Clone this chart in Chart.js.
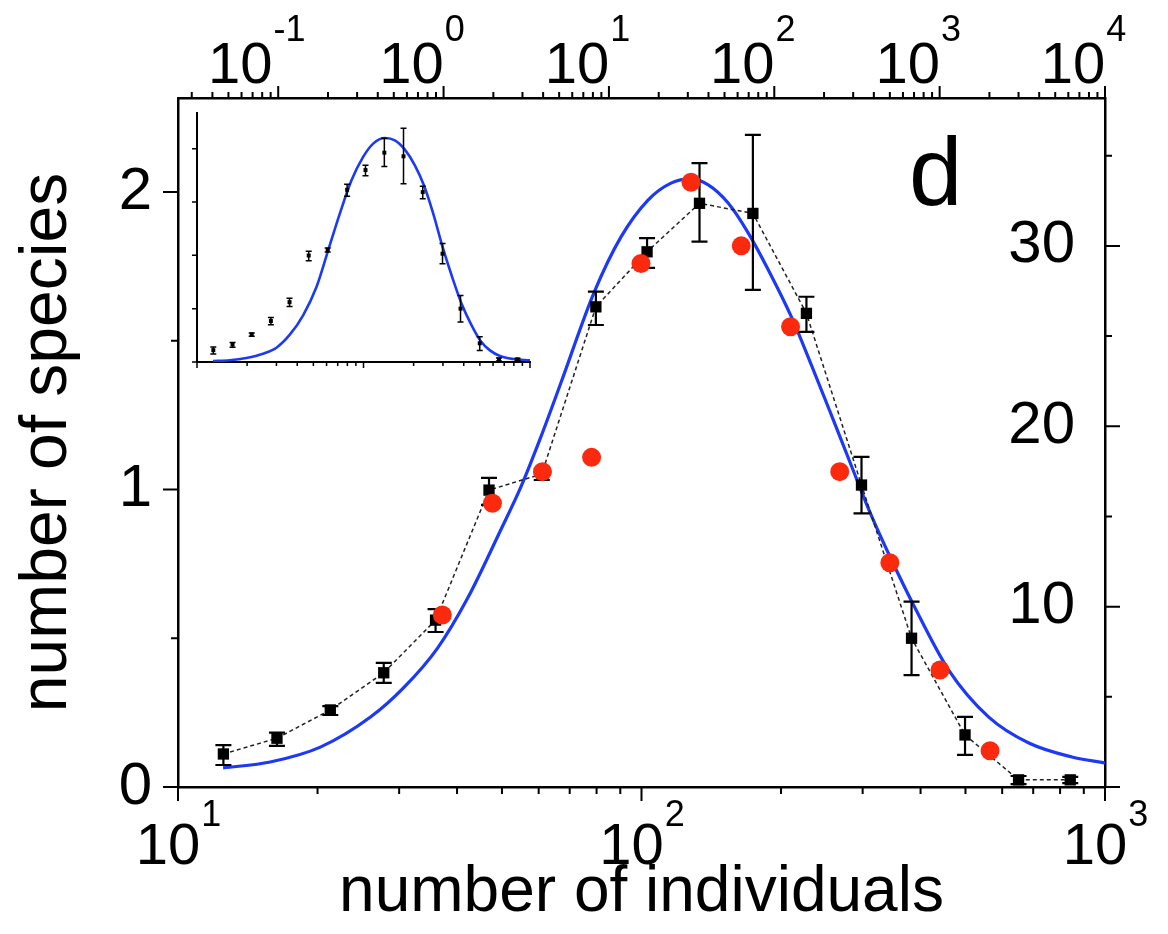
<!DOCTYPE html>
<html>
<head>
<meta charset="utf-8">
<script src="https://cdn.jsdelivr.net/npm/chart.js@4.4.1/dist/chart.umd.min.js"></script>
<style>
  body { margin: 0; background: #fff; }
  #wrap { position: relative; width: 1168px; height: 934px; }
  #inset { position: absolute; left: 150px; top: 100px; }
</style>
</head>
<body>
<div id="wrap">
  <canvas id="main" width="1168" height="934"></canvas>
  <canvas id="inset" width="400" height="280"></canvas>
</div>
<script>
// black squares with error bars (also shown in the inset)
const blackX = [12.53, 16.35, 21.31, 27.79, 35.95, 46.88, 60.93, 79.72, 102.8, 133.4, 173.9, 226.9, 298.3, 382.5, 498.9, 650.9, 841.4];
const blackY = [0.111, 0.164, 0.259, 0.384, 0.561, 0.998, 1.052, 1.614, 1.799, 1.962, 1.928, 1.592, 1.015, 0.500, 0.175, 0.024, 0.024];
const blackLo = [0.074, 0.138, 0.242, 0.350, 0.521, 0.948, 1.032, 1.553, 1.745, 1.833, 1.671, 1.530, 0.920, 0.376, 0.108, 0.010, 0.013];
const blackHi = [0.141, 0.183, 0.272, 0.417, 0.598, 1.039, 1.069, 1.665, 1.845, 2.097, 2.192, 1.648, 1.110, 0.623, 0.236, 0.037, 0.034];

// red circles
const redX = [37.17, 47.69, 61.14, 78.04, 99.75, 127.9, 164.1, 209.7, 267.7, 343.4, 440.5, 564.9];
const redY = [0.578, 0.954, 1.060, 1.108, 1.760, 2.033, 1.819, 1.547, 1.060, 0.754, 0.393, 0.122];

// blue curve, main panel
const fitX = [12.51, 15.81, 20.28, 26.02, 30.65, 36.31, 42.17, 49.69, 54.90, 60.63, 66.99, 78.95, 90.32, 103.3, 115.8, 127.9, 139.3, 153.8, 170.0, 187.8, 210.6, 232.6, 256.9, 283.8, 313.5, 346.3, 388.3, 460.0, 561.3, 685.0, 848.2, 1000];
const fitY = [0.064, 0.084, 0.134, 0.235, 0.333, 0.467, 0.635, 0.864, 1.008, 1.176, 1.358, 1.661, 1.849, 1.973, 2.030, 2.044, 2.024, 1.963, 1.862, 1.738, 1.580, 1.418, 1.250, 1.079, 0.911, 0.763, 0.605, 0.393, 0.235, 0.148, 0.101, 0.081];

// blue curve, inset
const insetFitX = [12.48, 15.72, 19.80, 24.93, 29.99, 36.07, 43.38, 52.17, 61.34, 72.07, 84.73, 99.5, 114.3, 134.4, 154.3, 177.2, 203.5, 230.5, 262.3, 298.5, 338.1, 388.3, 446.0, 505.1, 574.8, 660.2, 794.0, 1000];
const insetFitY = [0.009, 0.016, 0.038, 0.078, 0.134, 0.256, 0.438, 0.703, 1.047, 1.391, 1.703, 1.922, 2.047, 2.100, 2.078, 1.991, 1.844, 1.656, 1.391, 1.078, 0.813, 0.547, 0.344, 0.197, 0.109, 0.056, 0.028, 0.016];

// axes
const bottomLabels = [10, 100, 1000];
const topLabels = [0.1, 1, 10, 100, 1000, 10000];
const leftTicks = [0, 0.5, 1, 1.5, 2];
const leftLabels = [0, 1, 2];
const rightTicks = [0, 5, 10, 15, 20, 25, 30, 35];
const rightLabels = [10, 20, 30];
const insetYTicks = [0, 0.5, 1, 1.5, 2];

const FONT = "'Liberation Sans', Arial, sans-serif";
const BLUE = '#1c3af5';
const RED = '#fb2a0e';

function pts(xs, ys) {
  return xs.map((x, i) => ({x: x, y: ys[i]}));
}

function logTicks(min, max) {
  const out = [];
  for (let e = Math.floor(Math.log10(min)); e <= Math.ceil(Math.log10(max)); e++) {
    for (let k = 1; k <= 9; k++) {
      const v = k * Math.pow(10, e);
      if (v >= min * 0.999 && v <= max * 1.001) out.push(v);
    }
  }
  return out;
}

function isDecade(v) {
  const l = Math.log10(v);
  return Math.abs(l - Math.round(l)) < 1e-6;
}

function errorBars(ctx, chart, meta, lo, hi, cap, width) {
  const ys = chart.scales[meta.yAxisID];
  ctx.save();
  ctx.strokeStyle = '#000';
  ctx.lineWidth = width;
  ctx.beginPath();
  meta.data.forEach((el, i) => {
    const a = ys.getPixelForValue(lo[i]);
    const b = ys.getPixelForValue(hi[i]);
    ctx.moveTo(el.x, a); ctx.lineTo(el.x, b);
    ctx.moveTo(el.x - cap, a); ctx.lineTo(el.x + cap, a);
    ctx.moveTo(el.x - cap, b); ctx.lineTo(el.x + cap, b);
  });
  ctx.stroke();
  ctx.restore();
}

// "10" with a raised exponent, centred on x + shift
function powerLabel(ctx, x, baseline, v, shift, raise) {
  const exp = String(Math.round(Math.log10(v)));
  ctx.font = '58px ' + FONT;
  const w1 = ctx.measureText('10').width;
  ctx.font = '36px ' + FONT;
  const w2 = ctx.measureText(exp).width;
  const left = x + shift - (w1 + w2) / 2;
  ctx.font = '58px ' + FONT;
  ctx.fillText('10', left, baseline);
  ctx.font = '36px ' + FONT;
  ctx.fillText(exp, left + w1 + 1, baseline - raise);
}

const mainMarks = {
  id: 'mainMarks',
  afterDatasetDraw(chart, args) {
    if (args.index !== 1) return;
    errorBars(chart.ctx, chart, args.meta, blackLo, blackHi, 8, 2.2);
  },
  afterDraw(chart) {
    const ctx = chart.ctx;
    const a = chart.chartArea;
    const sx = chart.scales.x, sx2 = chart.scales.x2, sy = chart.scales.y, sy2 = chart.scales.y2;
    ctx.save();
    ctx.strokeStyle = '#000';
    ctx.lineWidth = 2;
    ctx.beginPath();
    logTicks(sx.min, sx.max).forEach(v => {
      const p = sx.getPixelForValue(v);
      ctx.moveTo(p, a.bottom); ctx.lineTo(p, a.bottom + (isDecade(v) ? 14 : 7));
    });
    logTicks(sx2.min, sx2.max).forEach(v => {
      const p = sx2.getPixelForValue(v);
      ctx.moveTo(p, a.top); ctx.lineTo(p, a.top - (isDecade(v) ? 12 : 6));
    });
    leftTicks.forEach(v => {
      const p = sy.getPixelForValue(v);
      ctx.moveTo(a.left, p); ctx.lineTo(a.left - (leftLabels.includes(v) ? 15 : 7), p);
    });
    rightTicks.forEach(v => {
      const p = sy2.getPixelForValue(v);
      ctx.moveTo(a.right, p); ctx.lineTo(a.right + (v % 10 === 0 ? 15 : 7), p);
    });
    ctx.stroke();

    ctx.fillStyle = '#000';
    ctx.textAlign = 'left';
    ctx.textBaseline = 'alphabetic';
    bottomLabels.forEach(v => powerLabel(ctx, sx.getPixelForValue(v), 864, v, 0, 38));
    topLabels.forEach(v => powerLabel(ctx, sx2.getPixelForValue(v), 83, v, -22, 42));

    ctx.font = '96px ' + FONT;
    ctx.fillText('d', 909, 205);
    ctx.restore();
  }
};

const insetMarks = {
  id: 'insetMarks',
  afterDatasetDraw(chart, args) {
    if (args.index !== 0) return;
    errorBars(chart.ctx, chart, args.meta, blackLo, blackHi, 3, 1.5);
  },
  afterDraw(chart) {
    const ctx = chart.ctx;
    const a = chart.chartArea;
    const sx = chart.scales.x, sy = chart.scales.y;
    ctx.save();
    ctx.strokeStyle = '#000';
    ctx.lineWidth = 1.5;
    ctx.beginPath();
    logTicks(sx.min, sx.max).forEach(v => {
      const p = sx.getPixelForValue(v);
      ctx.moveTo(p, a.bottom); ctx.lineTo(p, a.bottom + (isDecade(v) ? 6 : 4));
    });
    insetYTicks.forEach(v => {
      const p = sy.getPixelForValue(v);
      ctx.moveTo(a.left, p); ctx.lineTo(a.left - 5, p);
    });
    ctx.stroke();
    ctx.restore();
  }
};

const hidden = {display: false, drawTicks: false};
const frame = {display: true, color: '#000', width: 2.5};

new Chart(document.getElementById('main'), {
  type: 'scatter',
  data: {
    datasets: [
      {
        label: 'model',
        data: pts(redX, redY),
        pointStyle: 'circle',
        pointRadius: 9.5,
        pointBackgroundColor: RED,
        pointBorderWidth: 0,
        showLine: false,
        order: 0
      },
      {
        label: 'data',
        data: pts(blackX, blackY),
        pointStyle: 'rect',
        pointRadius: 8,
        pointBackgroundColor: '#000',
        pointBorderColor: '#000',
        pointBorderWidth: 0,
        showLine: true,
        borderColor: '#222',
        borderWidth: 1.5,
        borderDash: [4, 3],
        order: 1
      },
      {
        label: 'fit',
        data: pts(fitX, fitY),
        pointRadius: 0,
        showLine: true,
        borderColor: BLUE,
        borderWidth: 3.2,
        cubicInterpolationMode: 'monotone',
        order: 2
      }
    ]
  },
  options: {
    responsive: false,
    animation: false,
    events: [],
    layout: {padding: 0},
    plugins: {legend: {display: false}, tooltip: {enabled: false}},
    scales: {
      x: {
        type: 'logarithmic', position: 'bottom', min: 10, max: 1000,
        grid: hidden, border: frame,
        ticks: {display: false},
        title: {display: true, text: 'number of individuals', color: '#000',
                font: {family: FONT, size: 64}, padding: {top: 0, bottom: 2}},
        afterFit(s) { s.height = 147; }
      },
      x2: {
        type: 'logarithmic', axis: 'x', position: 'top', min: 0.02477, max: 10000,
        grid: hidden, border: frame,
        ticks: {display: false},
        afterFit(s) { s.height = 98; }
      },
      y: {
        type: 'linear', position: 'left', min: 0, max: 2.316,
        grid: hidden, border: frame,
        ticks: {stepSize: 0.5, includeBounds: false, padding: 26, color: '#000',
                font: {family: FONT, size: 60},
                callback: v => leftLabels.includes(v) ? String(v) : ''},
        title: {display: true, text: 'number of species', color: '#000',
                font: {family: FONT, size: 66}, padding: {top: 8, bottom: 0}},
        afterFit(s) { s.width = 178; }
      },
      y2: {
        type: 'linear', position: 'right', min: 0, max: 38.2,
        grid: hidden, border: frame,
        ticks: {stepSize: 5, includeBounds: false, mirror: true, padding: -30, color: '#000',
                font: {family: FONT, size: 60},
                callback: v => rightLabels.includes(v) ? String(v) : ''},
        afterFit(s) { s.width = 63; }
      }
    }
  },
  plugins: [mainMarks]
});

new Chart(document.getElementById('inset'), {
  type: 'scatter',
  data: {
    datasets: [
      {
        label: 'data',
        data: pts(blackX, blackY),
        pointStyle: 'rect',
        pointRadius: 2.8,
        pointBackgroundColor: '#000',
        pointBorderWidth: 0,
        showLine: false,
        order: 0
      },
      {
        label: 'fit',
        data: pts(insetFitX, insetFitY),
        pointRadius: 0,
        showLine: true,
        borderColor: BLUE,
        borderWidth: 2.6,
        cubicInterpolationMode: 'monotone',
        order: 1
      }
    ]
  },
  options: {
    responsive: false,
    animation: false,
    events: [],
    layout: {padding: {top: 13, right: 20, left: 0, bottom: 0}},
    plugins: {legend: {display: false}, tooltip: {enabled: false}},
    scales: {
      x: {
        type: 'logarithmic', min: 10, max: 1000,
        grid: hidden, border: {display: true, color: '#000', width: 2},
        ticks: {display: false},
        afterFit(s) { s.height = 18; }
      },
      y: {
        type: 'linear', min: 0, max: 2.334,
        grid: hidden, border: {display: true, color: '#000', width: 2},
        ticks: {display: false},
        afterFit(s) { s.width = 47; }
      }
    }
  },
  plugins: [insetMarks]
});
</script>
</body>
</html>
